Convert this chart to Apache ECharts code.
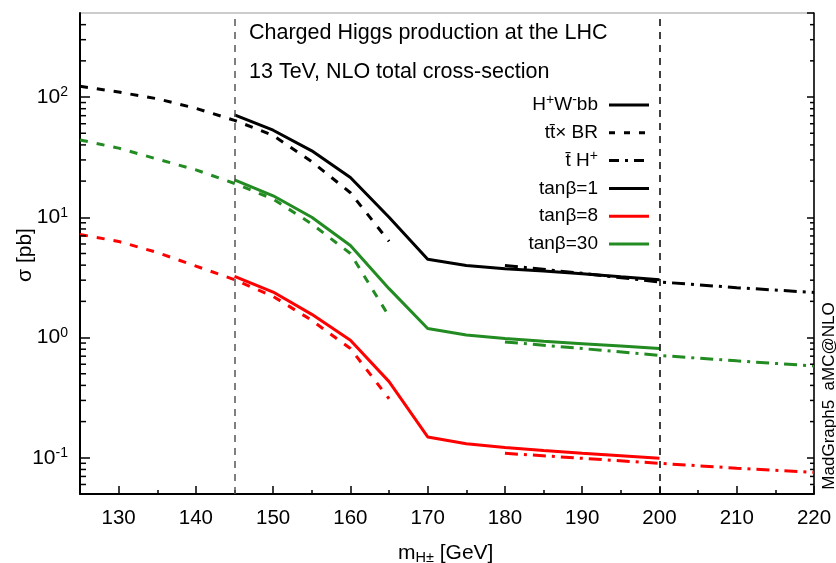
<!DOCTYPE html>
<html>
<head>
<meta charset="utf-8">
<script src="https://cdn.jsdelivr.net/npm/echarts@6/dist/echarts.min.js"></script>
<style>
  html, body { margin: 0; padding: 0; background: #fff; }
  #chart { width: 836px; height: 563px; }
</style>
</head>
<body>
<div id="chart"></div>
<script>
// masses [GeV]
var xTT = [125, 130, 135, 140, 145, 150, 155, 160, 165];
var xHWbb = [145, 150, 155, 160, 165, 170, 175, 180, 185, 190, 195, 200];
var xTH = [180, 190, 200, 210, 220];

// t tbar x BR  (dashed)
var ttTb1 = [123, 110, 96.8, 80.6, 64, 48, 29, 16, 6.3];
var ttTb8 = [7.2, 6.3, 5.1, 3.93, 3.03, 2.2, 1.39, 0.81, 0.31];
var ttTb30 = [44, 37.6, 30.5, 24.8, 19.1, 14.2, 8.8, 5.0, 1.5];

// H+ W- b b  (solid)
var hwTb1 = [71, 53, 35.7, 21.4, 10, 4.47, 3.98, 3.74, 3.57, 3.4, 3.2, 3.03];
var hwTb8 = [3.23, 2.39, 1.56, 0.95, 0.43, 0.149, 0.131, 0.122, 0.115, 0.109, 0.104, 0.099];
var hwTb30 = [20.5, 15.1, 10, 5.83, 2.55, 1.19, 1.05, 0.98, 0.93, 0.89, 0.85, 0.81];

// tbar H+  (dash-dot)
var thTb1 = [3.98, 3.42, 2.9, 2.6, 2.37];
var thTb8 = [0.109, 0.099, 0.090, 0.082, 0.0757];
var thTb30 = [0.92, 0.81, 0.71, 0.64, 0.58];

// log axis minor tick values
var yMinorTicks = [0.06, 0.07, 0.08, 0.09, 0.2, 0.3, 0.4, 0.5, 0.6, 0.7, 0.8, 0.9,
                   2, 3, 4, 5, 6, 7, 8, 9, 20, 30, 40, 50, 60, 70, 80, 90, 200, 300, 400];

var legendLabels = ['H{sup|+}W{sup|-}bb', 'tt\u0304\u00d7 BR', 't\u0304 H{sup|+}', 'tan\u03b2=1', 'tan\u03b2=8', 'tan\u03b2=30'];

var FONT = 'Liberation Sans, Arial, Helvetica, sans-serif';
var RED = '#ff0000', GREEN = '#228b22', BLACK = '#000000';
var DASH = [8, 9];
var DASHDOT = [13, 6, 3, 6];

function pairs(xs, ys) {
    var out = [];
    for (var i = 0; i < xs.length; i++) {
        out.push([xs[i], ys[i]]);
    }
    return out;
}

function curve(name, xs, ys, color, type) {
    return {
        name: name,
        type: 'line',
        data: pairs(xs, ys),
        symbol: 'none',
        silent: true,
        lineStyle: { color: color, width: 3, type: type, cap: 'butt' },
        z: 3
    };
}

var supRich = {
    sup: { fontSize: 14, fontFamily: FONT, color: '#000', verticalAlign: 'top', padding: [0, 0, 9, 0] }
};

var series = [
    curve('tt tb1', xTT, ttTb1, BLACK, DASH),
    curve('tt tb8', xTT, ttTb8, RED, DASH),
    curve('tt tb30', xTT, ttTb30, GREEN, DASH),
    curve('hw tb1', xHWbb, hwTb1, BLACK, 'solid'),
    curve('hw tb8', xHWbb, hwTb8, RED, 'solid'),
    curve('hw tb30', xHWbb, hwTb30, GREEN, 'solid'),
    curve('th tb1', xTH, thTb1, BLACK, DASHDOT),
    curve('th tb8', xTH, thTb8, RED, DASHDOT),
    curve('th tb30', xTH, thTb30, GREEN, DASHDOT)
];

// vertical markers at 145 and 200
series[0].markLine = {
    silent: true,
    symbol: 'none',
    label: { show: false },
    animation: false,
    data: [
        { xAxis: 145, lineStyle: { color: '#555', width: 1.5, type: [7, 6] } },
        { xAxis: 200, lineStyle: { color: '#000', width: 1.5, type: [7, 6] } }
    ]
};

// minor ticks of the log axis (left and right)
series.push({
    type: 'custom',
    silent: true,
    clip: false,
    data: yMinorTicks.map(function (v) { return [125, v]; }),
    renderItem: function (params, api) {
        var y = api.coord([125, api.value(1)])[1];
        var cs = params.coordSys;
        return {
            type: 'group',
            children: [
                { type: 'line', shape: { x1: cs.x, y1: y, x2: cs.x + 6, y2: y }, style: { stroke: '#000', lineWidth: 1.5 } },
                { type: 'line', shape: { x1: cs.x + cs.width, y1: y, x2: cs.x + cs.width - 4, y2: y }, style: { stroke: '#000', lineWidth: 1.5 } }
            ]
        };
    },
    z: 5
});

// legend drawn by hand: text right-aligned, line sample to the right
var legendColors = [BLACK, BLACK, BLACK, BLACK, RED, GREEN];
var legendTypes = [null, [6, 9], [10, 6, 3, 6], null, null, null];
var graphics = [];
for (var i = 0; i < legendLabels.length; i++) {
    var ly = 105 + i * 27.8;
    graphics.push({
        type: 'text', x: 598, y: ly, silent: true,
        style: {
            text: legendLabels[i], rich: supRich, fontSize: 19, fontFamily: FONT, fill: '#000',
            align: 'right', verticalAlign: 'middle', textAlign: 'right', textVerticalAlign: 'middle'
        }
    });
    graphics.push({
        type: 'line', silent: true,
        shape: { x1: 609, y1: ly, x2: 649, y2: ly },
        style: { stroke: legendColors[i], lineWidth: 3, lineDash: legendTypes[i] }
    });
}
graphics.push(
    { type: 'text', x: 249, y: 33, silent: true,
      style: { text: 'Charged Higgs production at the LHC', fontSize: 21.5, fontFamily: FONT, fill: '#000',
               verticalAlign: 'middle', textVerticalAlign: 'middle' } },
    { type: 'text', x: 249, y: 72, silent: true,
      style: { text: '13 TeV, NLO total cross-section', fontSize: 21.5, fontFamily: FONT, fill: '#000',
               verticalAlign: 'middle', textVerticalAlign: 'middle' } },
    { type: 'text', x: 398, y: 553, silent: true,
      style: { text: 'm{sub|H\u00b1} [GeV]', fontSize: 21, fontFamily: FONT, fill: '#000',
               verticalAlign: 'middle', textVerticalAlign: 'middle',
               rich: { sub: { fontSize: 14.5, fontFamily: FONT, color: '#000', verticalAlign: 'bottom', padding: [9, 0, 0, 0] } } } },
    { type: 'text', x: 25, y: 255, rotation: Math.PI / 2, silent: true,
      style: { text: '\u03c3 [pb]', fontSize: 21, fontFamily: FONT, fill: '#000',
               align: 'center', verticalAlign: 'middle', textAlign: 'center', textVerticalAlign: 'middle' } },
    { type: 'text', x: 829, y: 396, rotation: Math.PI / 2, silent: true,
      style: { text: 'MadGraph5_aMC@NLO', fontSize: 17, fontFamily: FONT, fill: '#000',
               align: 'center', verticalAlign: 'middle', textAlign: 'center', textVerticalAlign: 'middle' } }
);

var myChart = echarts.init(document.getElementById('chart'));
var option = {
    animation: false,
    backgroundColor: '#fff',
    textStyle: { fontFamily: FONT },
    grid: {
        left: 80, right: 22, top: 13, bottom: 69,
        outerBoundsMode: 'none',
        containLabel: false,
        show: true, borderColor: '#999', borderWidth: 1, backgroundColor: 'transparent'
    },
    xAxis: [{
        type: 'value',
        min: 125, max: 220,
        splitNumber: 10,
        position: 'bottom',
        axisLine: { lineStyle: { color: '#000', width: 2 } },
        axisTick: { inside: true, length: 8, lineStyle: { color: '#000', width: 1.5 } },
        axisLabel: { color: '#000', fontSize: 20.5, fontFamily: FONT, margin: 14, showMinLabel: false },
        splitLine: { show: false }
    }, {
        type: 'value',
        min: 125, max: 220,
        interval: 5,
        position: 'bottom',
        axisLine: { show: false },
        axisTick: { inside: true, length: 4, lineStyle: { color: '#000', width: 1.5 } },
        axisLabel: { show: false },
        splitLine: { show: false }
    }],
    yAxis: [{
        type: 'log',
        logBase: 10,
        min: 0.05, max: 500,
        position: 'left',
        axisLine: { show: true, lineStyle: { color: '#000', width: 2 } },
        axisTick: { inside: true, length: 10, lineStyle: { color: '#000', width: 1.5 } },
        axisLabel: {
            color: '#000', fontSize: 21, fontFamily: FONT, margin: 12,
            showMinLabel: false, showMaxLabel: false,
            formatter: function (v) {
                var e = Math.round(Math.log(v) / Math.LN10);
                return '10{sup|' + e + '}';
            },
            rich: supRich
        },
        splitLine: { show: false }
    }, {
        type: 'log',
        logBase: 10,
        min: 0.05, max: 500,
        position: 'right',
        axisLine: { show: true, lineStyle: { color: '#000', width: 1.5 } },
        axisTick: { inside: true, length: 7, lineStyle: { color: '#000', width: 1.5 } },
        axisLabel: { show: false },
        splitLine: { show: false }
    }],
    graphic: graphics,
    series: series
};

myChart.setOption(option);
</script>
</body>
</html>
